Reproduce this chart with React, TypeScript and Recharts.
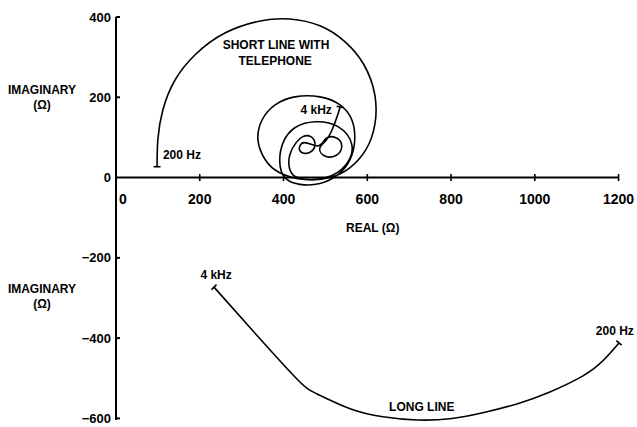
import React from 'react';
import { LineChart, Line, XAxis, YAxis, ReferenceLine, ReferenceDot } from 'recharts';

const FONT = "'Liberation Sans', Arial, sans-serif";

// short line with telephone: 200 Hz -> 4 kHz
const shortReal = [98, 100, 112, 141, 189, 260, 344, 415, 487, 547, 592, 618, 618, 597, 559, 511, 451, 391, 356, 339,
  349, 380, 427, 487, 535, 563, 570, 559, 530, 487, 439, 403, 391, 399, 427, 475, 530, 563, 549, 501,
  439, 415, 415, 430, 446, 465, 475, 461, 439, 449, 482, 501, 525, 539, 525, 496, 487, 501, 516, 528, 535];
const shortImag = [27, 95, 169, 243, 306, 360, 390, 395, 378, 338, 281, 206, 132, 70, 25, 0, -5, 12, 45, 94,
  144, 181, 201, 201, 181, 144, 94, 45, 7, -15, -17, 0, 40, 87, 124, 139, 127, 82, 32, 0,
  -2, 20, 57, 87, 102, 102, 82, 62, 67, 87, 79, 97, 99, 79, 55, 55, 75, 92, 119, 152, 176];

// long line: 4 kHz -> 200 Hz
const longReal = [234, 332, 432, 480, 559, 637, 718, 797, 876, 957, 1036, 1115, 1162, 1201];
const longImag = [-273, -388, -502, -539, -576, -596, -604, -601, -586, -564, -534, -494, -457, -412];

const xTicks = [0, 200, 400, 600, 800, 1000, 1200];
const yTicks = [-600, -400, -200, 0, 200, 400];

const shortData = shortReal.map((x, i) => ({ x, y: shortImag[i] }));
const longData = longReal.map((x, i) => ({ x, y: longImag[i] }));

// annotations in data coordinates
const notes = [
  { x: 382, y: 330, text: 'SHORT LINE WITH' },
  { x: 380, y: 290, text: 'TELEPHONE' },
  { x: 112, y: 57, text: '200 Hz', anchor: 'start' },
  { x: 478, y: 169, text: '4 kHz' },
  { x: 613, y: -124, text: 'REAL (Ω)' },
  { x: 239, y: -243, text: '4 kHz' },
  { x: 1191, y: -383, text: '200 Hz' },
  { x: 730, y: -571, text: 'LONG LINE' },
];
const imagLabels = [219, -278];

const fmtY = (v: number) => (v < 0 ? `\u2212${Math.abs(v)}` : `${v}`);

const endBar = (count: number, a0: number, a1: number) => (props: any) => {
  const { cx, cy, index } = props;
  if (index !== 0 && index !== count - 1) return <g key={`d${index}`} />;
  const a = ((index === 0 ? a0 : a1) * Math.PI) / 180;
  const L = 3.5;
  return (
    <line key={`d${index}`} x1={cx - L * Math.cos(a)} y1={cy - L * Math.sin(a)}
      x2={cx + L * Math.cos(a)} y2={cy + L * Math.sin(a)} stroke="#000" strokeWidth={1.6} />
  );
};

export default function App() {
  return (
    <div style={{ position: 'absolute', left: 0, top: 0, background: '#fff' }}>
      <LineChart width={637} height={427} margin={{ top: 17, right: 18, bottom: 7, left: 0 }}>
        <XAxis type="number" dataKey="x" domain={[0, 1200]} ticks={xTicks} hide />
        <YAxis
          type="number"
          domain={[-600, 400]}
          ticks={yTicks}
          interval={0}
          width={116}
          tickLine={false}
          tickSize={3}
          tickMargin={2}
          axisLine={{ stroke: '#000', strokeWidth: 2 }}
          tickFormatter={fmtY}
          tick={{ fill: '#000', fontSize: 13, fontWeight: 700, fontFamily: FONT }}
        />
        <ReferenceLine y={0} stroke="#000" strokeWidth={2} />
        {xTicks.filter((v) => v > 0).map((v) => (
          <ReferenceDot key={`xt${v}`} x={v} y={0} r={0}
            shape={(p: any) => <line x1={p.cx} y1={p.cy - 3.5} x2={p.cx} y2={p.cy + 3.5} stroke="#000" strokeWidth={1.6} />} />
        ))}
        {xTicks.map((v) => (
          <ReferenceDot key={`xl${v}`} x={v} y={0} r={0}
            shape={(p: any) => (
              <text x={v === 0 ? p.cx + 3 : p.cx} y={p.cy + 26} textAnchor={v === 0 ? 'start' : 'middle'}
                fontFamily={FONT} fontWeight={700} fontSize={14} fill="#000">{v}</text>
            )} />
        ))}
        {yTicks.filter((v) => v !== 0).map((v) => (
          <ReferenceDot key={`yt${v}`} x={0} y={v} r={0}
            shape={(p: any) => <line x1={p.cx} y1={p.cy} x2={p.cx + 4} y2={p.cy} stroke="#000" strokeWidth={2} />} />
        ))}
        {imagLabels.map((v) => (
          <ReferenceDot key={`il${v}`} x={0} y={v} r={0}
            shape={(p: any) => (
              <text x={p.cx - 74} y={p.cy} dy="0.35em" textAnchor="middle" fontFamily={FONT} fontWeight={700} fontSize={12} fill="#000">
                <tspan x={p.cx - 74}>IMAGINARY</tspan>
                <tspan x={p.cx - 74} dy="15">(Ω)</tspan>
              </text>
            )} />
        ))}
        {notes.map((n, i) => (
          <ReferenceDot key={`n${i}`} x={n.x} y={n.y} r={0}
            shape={(p: any) => (
              <text x={p.cx} y={p.cy} dy="0.35em" textAnchor={n.anchor || 'middle'}
                fontFamily={FONT} fontWeight={700} fontSize={12} fill="#000">{n.text}</text>
            )} />
        ))}
        <Line data={shortData} dataKey="y" type="natural" stroke="#000" strokeWidth={1.6}
          dot={endBar(shortData.length, 0, 12)} activeDot={false} isAnimationActive={false} />
        <Line data={longData} dataKey="y" type="natural" stroke="#000" strokeWidth={1.6}
          dot={endBar(longData.length, 135, 40)} activeDot={false} isAnimationActive={false} />
      </LineChart>
    </div>
  );
}
